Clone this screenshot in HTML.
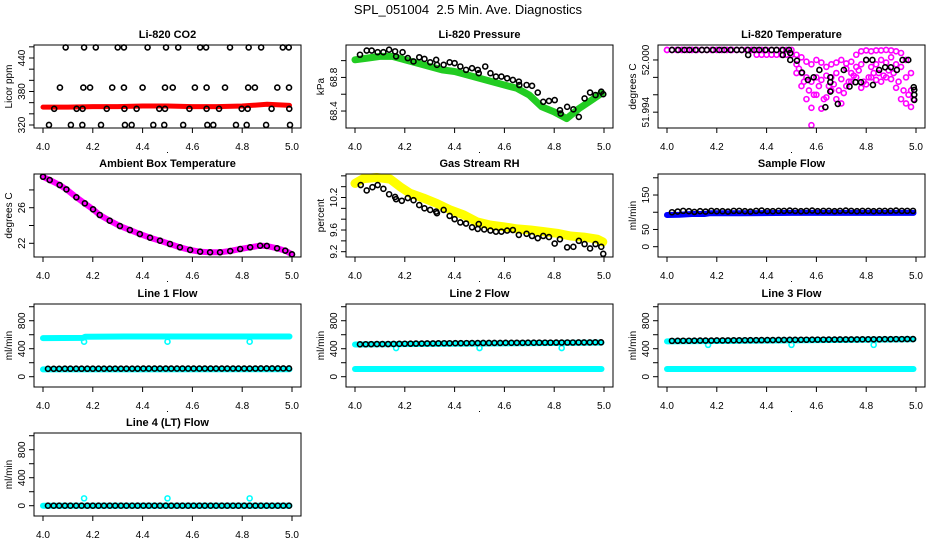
<!DOCTYPE html>
<html><head><meta charset="utf-8"><style>
html,body{margin:0;padding:0;background:#fff;}
svg{display:block;font-family:"Liberation Sans",Arial,sans-serif;}
</style></head><body>
<svg id="chart" width="936" height="540" viewBox="0 0 936 540" xmlns="http://www.w3.org/2000/svg">
<text x="468" y="14" font-size="13" text-anchor="middle" style="white-space:pre" xml:space="preserve">SPL_051004  2.5 Min. Ave. Diagnostics</text>
</svg>
<script>
// ---------- data ----------
const xTicks=[4.0,4.2,4.4,4.6,4.8,5.0];
const xTickLabels=["4.0","4.2","4.4","4.6","4.8","5.0"];

// CO2
const co2BlackX=[4.091,4.165,4.212,4.300,4.325,4.420,4.494,4.543,4.631,4.655,4.751,4.826,4.876,4.963,4.987,
4.068,4.162,4.189,4.278,4.325,4.400,4.490,4.521,4.610,4.657,4.731,4.824,4.851,4.941,4.988,
4.045,4.135,4.159,4.256,4.327,4.376,4.467,4.490,4.588,4.657,4.707,4.798,4.822,4.918,4.989,
4.024,4.112,4.158,4.233,4.329,4.356,4.443,4.487,4.563,4.660,4.684,4.775,4.818,4.896,4.992];
const co2BlackY=[459,459,459,459,459,459,459,459,459,459,459,459,459,459,459,
387,387,387,387,387,387,387,387,387,387,387,387,387,387,387,
349,349,349,349,349,349,349,349,349,349,349,349,349,349,349,
320,320,320,320,320,320,320,320,320,320,320,320,320,320,320];
const co2RedX=[4.0,4.1,4.2,4.3,4.4,4.5,4.6,4.7,4.8,4.9,4.99];
const co2Red=[352,352,353,353,354,354,353,353,354,357,355];

// Pressure
const presGreenX=[4.00,4.05,4.10,4.15,4.20,4.25,4.30,4.35,4.40,4.45,4.50,4.55,4.60,4.65,4.70,4.75,4.80,4.85,4.90,4.95,4.99];
const presGreen=[69.01,69.03,69.05,69.05,69.01,68.97,68.93,68.89,68.87,68.83,68.79,68.75,68.71,68.67,68.59,68.45,68.39,68.31,68.43,68.53,68.61];
const presBlackX=[4.020,4.047,4.067,4.091,4.114,4.137,4.161,4.165,4.191,4.212,4.235,4.258,4.279,4.302,4.326,4.329,4.356,4.380,4.400,4.423,4.446,4.470,4.493,4.497,4.523,4.544,4.566,4.588,4.611,4.634,4.658,4.660,4.689,4.711,4.734,4.756,4.779,4.802,4.823,4.826,4.852,4.877,4.899,4.922,4.944,4.966,4.989,4.997];
const presBlack=[69.07,69.12,69.12,69.10,69.10,69.13,69.11,69.05,69.10,69.03,68.99,69.04,69.02,68.98,69.01,68.95,68.95,68.98,68.97,68.93,68.89,68.91,68.89,68.85,68.93,68.85,68.81,68.81,68.79,68.77,68.75,68.71,68.71,68.70,68.62,68.51,68.52,68.53,68.41,68.37,68.45,68.42,68.33,68.55,68.62,68.59,68.63,68.60];

// Li-820 temperature
const tempX=[4.00,4.02,4.04,4.06,4.08,4.10,4.12,4.14,4.16,4.18,4.20,4.22,4.24,4.26,4.28,4.30,4.32,4.34,4.36,4.38,4.40,4.42,4.44,4.46,4.48,4.50,
4.52,4.54,4.56,4.58,4.60,4.62,4.64,4.66,4.68,4.70,4.72,4.74,4.76,4.78,4.80,4.82,4.84,4.86,4.88,4.90,4.92,4.94,4.96,4.98];
const tempHi=[52.00115,52.00115,52.00115,52.00115,52.00115,52.00115,52.00115,52.00115,52.00115,52.00115,52.00115,52.00115,52.00115,52.00115,52.00115,52.00115,52.00115,52.00115,52.00115,52.00115,52.00115,52.00115,52.00115,52.00115,52.00115,52.00115,
52.0006,52.0003,51.9998,51.9995,52.0000,51.9997,51.9992,51.9995,51.9997,52.0000,51.9996,51.9998,52.0006,52.0010,52.0011,52.0010,52.0011,52.0011,52.00115,52.0011,52.0010,52.0008,52.0000,51.9985];
const tempMid=[52.00115,52.00115,52.00115,52.00115,52.00115,52.00115,52.00115,52.00115,52.00115,52.00115,52.00115,52.00115,52.00115,52.00115,52.00115,52.00115,52.00115,52.00115,52.0006,52.0006,52.0006,52.0006,52.0006,52.0006,52.0006,52.0006,
51.9995,51.9985,51.9980,51.9975,51.9980,51.9977,51.9982,51.9980,51.9985,51.9978,51.9990,51.9985,51.9992,51.9995,52.0000,51.9992,51.9995,52.0000,51.9997,52.0003,51.9995,51.9992,51.9980,51.9965];
const tempLoX=[4.52,4.54,4.56,4.58,4.60,4.62,4.64,4.66,4.68,4.70,4.72,4.74,4.76,4.78,4.80,4.82,4.84,4.86,4.88,4.90,4.92,4.94,4.96,4.98,
4.53,4.55,4.57,4.59,4.61,4.63,4.65,4.67,4.69,4.71,4.73,4.75,4.77,4.79,4.81,4.83,4.85,4.87,4.89,4.91,4.93,4.95,4.97,4.99,4.58];
const tempLo=[51.9985,51.9970,51.9955,51.9945,51.9960,51.9944,51.9957,51.9965,51.9955,51.9950,51.9970,51.9975,51.9980,51.9968,51.9972,51.9980,51.9977,51.9975,51.9980,51.9978,51.9968,51.9955,51.9950,51.9946,
51.9990,51.9975,51.9965,51.9960,51.9970,51.9955,51.9970,51.9972,51.9965,51.9962,51.9975,51.9982,51.9988,51.9975,51.9980,51.9985,51.9985,51.9982,51.9988,51.9985,51.9975,51.9965,51.9960,51.9955,51.9925];
const tempBlackX=[4.02,4.045,4.07,4.09,4.115,4.14,4.16,4.185,4.21,4.23,4.255,4.28,4.30,4.325,4.35,4.37,4.395,4.42,4.44,4.465,4.49,
4.326,4.465,4.495,4.495,4.522,4.542,4.566,4.589,4.612,4.636,4.656,4.656,4.656,4.686,4.710,4.733,4.757,4.779,4.800,4.825,4.827,4.852,4.876,4.899,4.923,4.946,4.969,4.991,4.993,4.993,4.993];
const tempBlack=[52.00115,52.00115,52.00115,52.00115,52.00115,52.00115,52.00115,52.00115,52.00115,52.00115,52.00115,52.00115,52.00115,52.00115,52.00115,52.00115,52.00115,52.00115,52.00115,52.00115,52.00115,
52.00057,52.00057,52.0008,52.0000,51.99992,51.99855,51.99771,51.99801,51.99885,51.99457,51.99801,51.99744,51.99637,51.99495,51.99885,51.99694,51.99744,51.99744,52.0000,52.0000,51.99713,51.99885,51.99916,51.99916,51.99885,52.0000,52.0000,51.99687,51.99656,51.99600,51.99541];

// Ambient box temperature
const ambX=[4.000,4.027,4.067,4.094,4.134,4.168,4.201,4.228,4.268,4.309,4.349,4.389,4.430,4.470,4.510,4.550,4.591,4.631,4.671,4.711,4.752,4.792,4.832,4.872,4.899,4.940,4.973,5.000];
const amb=[29.48,29.11,28.55,28.06,27.17,26.49,25.82,25.18,24.54,23.94,23.49,23.04,22.63,22.29,21.92,21.55,21.25,21.06,20.99,20.99,21.13,21.36,21.55,21.73,21.70,21.44,21.17,20.76];

// Gas stream RH
const rhYellowX=[4.000,4.034,4.087,4.141,4.181,4.221,4.275,4.329,4.383,4.436,4.490,4.544,4.597,4.651,4.705,4.758,4.812,4.866,4.919,4.973,4.995];
const rhYellow=[10.46,10.55,10.57,10.54,10.40,10.28,10.19,10.09,9.97,9.88,9.75,9.69,9.66,9.62,9.60,9.57,9.54,9.49,9.47,9.43,9.38];
const rhBlackX=[4.023,4.047,4.070,4.091,4.114,4.137,4.161,4.165,4.188,4.212,4.235,4.258,4.279,4.302,4.326,4.329,4.356,4.380,4.400,4.423,4.446,4.470,4.493,4.497,4.519,4.544,4.566,4.588,4.611,4.634,4.658,4.689,4.711,4.734,4.756,4.779,4.802,4.823,4.852,4.877,4.899,4.922,4.944,4.966,4.989,4.997];
const rhBlack=[10.43,10.33,10.39,10.43,10.36,10.26,10.21,10.17,10.14,10.19,10.15,10.06,10.00,9.97,9.94,9.91,9.97,9.86,9.80,9.74,9.72,9.65,9.62,9.71,9.61,9.59,9.57,9.57,9.59,9.60,9.51,9.53,9.49,9.45,9.49,9.47,9.35,9.43,9.28,9.29,9.40,9.34,9.26,9.34,9.29,9.16];

// Flows
const flowBlackX=[4.020,4.043,4.065,4.088,4.110,4.133,4.155,4.178,4.200,4.223,4.245,4.268,4.290,4.313,4.335,4.358,4.380,4.403,4.425,4.448,4.470,4.493,4.515,4.538,4.560,4.583,4.605,4.628,4.650,4.673,4.695,4.718,4.740,4.763,4.785,4.808,4.830,4.853,4.875,4.898,4.920,4.943,4.965,4.988];
const sampleBlack=[100,102,104,103,101,103,102,104,103,103,102,104,104,103,102,104,105,103,103,104,104,105,104,103,104,105,103,104,104,103,104,105,104,103,104,104,103,104,104,104,105,104,104,104];
const sampleBlueX=[4.00,4.05,4.10,4.15,4.17,4.30,4.50,4.70,4.90,4.99];
const sampleBlue=[92,93,95,95,97,97,98,98,98,98];
const line1Black=[113,113,113,114,114,114,114,114,114,115,115,115,115,115,115,115,115,116,116,116,116,116,116,116,116,116,116,116,117,117,117,117,117,117,117,117,117,117,118,118,118,118,118,118];
const line2Black=[463,464,465,466,466,467,468,470,471,472,473,474,475,476,477,478,478,479,479,480,481,481,482,482,483,483,484,484,485,485,486,486,487,487,487,488,488,489,489,490,490,490,491,491];
const line3Black=[512,513,514,514,515,516,516,517,518,518,519,520,520,521,522,522,523,524,524,525,526,527,527,528,528,529,530,530,531,531,532,532,533,533,534,534,535,535,536,536,537,537,538,538];
const line4Black=[0,0,0,0,0,0,0,0,0,0,0,0,0,0,0,0,0,0,0,0,0,0,0,0,0,0,0,0,0,0,0,0,0,0,0,0,0,0,0,0,0,0,0,0];
const line1UpperX=[4.00,4.16,4.17,4.33,4.99];
const line1Upper=[552,555,572,575,575];
const line2UpperX=[4.00,4.99];
const line2Upper=[460,488];
const line3UpperX=[4.00,4.99];
const line3Upper=[505,535];
const lowerX=[4.00,4.99];
const line1Lower=[105,108];
const line2Lower=[110,110];
const line3Lower=[110,110];
const line4Lower=[0,0];
const dipX=[4.165,4.500,4.830];
const line1Dip=[500,500,500];
const line2Dip=[410,410,410];
const line3Dip=[455,455,455];
const line4Dip=[105,105,105];

// ---------- drawing ----------
const NS="http://www.w3.org/2000/svg";
const svg=document.getElementById('chart');
const cols=[34,346,658], rows=[45,174,304,433], PW=267, PH=83;
function mk(tag,attrs,parent){const e=document.createElementNS(NS,tag);for(const k in attrs)e.setAttribute(k,attrs[k]);(parent||svg).appendChild(e);return e;}

function makePanel(cfg){
  const L=cols[cfg.c], T=rows[cfg.r];
  const g=mk('g',{});
  
  
  const xs=v=>L+9+(v-4)*249;
  const ys=v=>T+PH-(v-cfg.ylim[0])/(cfg.ylim[1]-cfg.ylim[0])*PH;
  const title=mk('text',{x:L+PW/2,y:T-7,'font-size':11,'font-weight':'bold','text-anchor':'middle'},g);
  title.textContent=cfg.title;
  
  
  const plot=mk('g',{},g);
  
  
  const xa=mk('g',{},g);
  
  
  mk('line',{x1:xs(xTicks[0]),x2:xs(xTicks[xTicks.length-1]),y1:T+PH,y2:T+PH,stroke:'#000'},xa);
  xTicks.forEach((t,i)=>{
    mk('line',{x1:xs(t),x2:xs(t),y1:T+PH,y2:T+PH+5,stroke:'#000'},xa);
    const tl=mk('text',{x:xs(t),y:T+PH+22,'font-size':10,'text-anchor':'middle'},xa);
    tl.textContent=xTickLabels[i];
    
    
  });
  mk('rect',{x:L+PW/2-0.5,y:T+PH+24,width:1,height:1,fill:'#000'},xa);
  const ya=mk('g',{},g);
  
  
  mk('line',{x1:L,x2:L,y1:ys(cfg.yticks[0]),y2:ys(cfg.yticks[cfg.yticks.length-1]),stroke:'#000'},ya);
  cfg.yticks.forEach(t=>{
    mk('line',{x1:L-5,x2:L,y1:ys(t),y2:ys(t),stroke:'#000'},ya);
  });
  cfg.ylabels.forEach((t,i)=>{
    const yy=ys(t);
    const tl=mk('text',{x:L-9,y:yy,'font-size':10,'text-anchor':'middle',transform:`rotate(-90 ${L-9} ${yy})`},ya);
    tl.textContent=cfg.ylabelText[i];
    
    
  });
  const yt=mk('text',{x:L-22,y:T+PH/2,'font-size':10,'text-anchor':'middle',transform:`rotate(-90 ${L-22} ${T+PH/2})`},ya);
  yt.textContent=cfg.ylab;
  
  
  const box=mk('rect',{x:L,y:T,width:PW,height:PH,fill:'none',stroke:'#000'},g);
  
  
  return {plot,xs,ys};
}
function band(p,X,V,color,w,name){
  const pts=X.map((x,i)=>p.xs(x).toFixed(1)+','+p.ys(V[i]).toFixed(1)).join(' ');
  const pl=mk('polyline',{points:pts,fill:'none',stroke:color,'stroke-width':w,'stroke-linejoin':'round','stroke-linecap':'round'},p.plot);
  
  
}
function pts(p,X,V,color,name){
  const g=mk('g',{},p.plot);
  
  
  X.forEach((x,i)=>{
    const c=mk('circle',{cx:p.xs(x),cy:p.ys(V[i]),r:2.5,fill:'none',stroke:color,'stroke-width':1.6},g);
    
    
  });
}
const flowTicks=[0,200,400,600,800,1000], flowLab=[0,400,800], flowLabT=["0","400","800"];

let p;
p=makePanel({name:'panel-co2',c:0,r:0,title:'Li-820 CO2',ylab:'Licor ppm',ylim:[314.6,463.3],yticks:[320,340,360,380,400,420,440,460],ylabels:[320,380,440],ylabelText:["320","380","440"]});
band(p,co2RedX,co2Red,'#ff0000',5,'co2-red-series');
pts(p,co2BlackX,co2BlackY,'#000','co2-black-series');

p=makePanel({name:'panel-pressure',c:1,r:0,title:'Li-820 Pressure',ylab:'kPa',ylim:[68.198,69.186],yticks:[68.4,68.6,68.8,69.0],ylabels:[68.4,68.8],ylabelText:["68.4","68.8"]});
band(p,presGreenX,presGreen,'#22cc22',7,'pressure-green-series');
pts(p,presBlackX,presBlack,'#000','pressure-black-series');

p=makePanel({name:'panel-li820-temp',c:2,r:0,title:'Li-820 Temperature',ylab:'degrees C',ylim:[51.99218,52.00172],yticks:[51.994,51.996,51.998,52.000],ylabels:[51.994,52.000],ylabelText:["51.994","52.000"]});
pts(p,tempX,tempHi,'#ff00ff','temp-magenta-high');
pts(p,tempX,tempMid,'#ff00ff','temp-magenta-mid');
pts(p,tempLoX,tempLo,'#ff00ff','temp-magenta-low');
pts(p,tempBlackX,tempBlack,'#000','temp-black-series');

p=makePanel({name:'panel-ambient',c:0,r:1,title:'Ambient Box Temperature',ylab:'degrees C',ylim:[20.46,29.79],yticks:[22,24,26,28],ylabels:[22,26],ylabelText:["22","26"]});
band(p,ambX,amb,'#ff00ff',6,'ambient-magenta-series');
pts(p,ambX,amb,'#000','ambient-black-series');

p=makePanel({name:'panel-rh',c:1,r:1,title:'Gas Stream RH',ylab:'percent',ylim:[9.102,10.634],yticks:[9.2,9.4,9.6,9.8,10.0,10.2,10.4,10.6],ylabels:[9.2,9.6,10.2],ylabelText:["9.2","9.6","10.2"]});
band(p,rhYellowX,rhYellow,'#ffff00',9,'rh-yellow-series');
pts(p,rhBlackX,rhBlack,'#000','rh-black-series');

p=makePanel({name:'panel-sample-flow',c:2,r:1,title:'Sample Flow',ylab:'ml/min',ylim:[-29.9,211],yticks:[0,50,100,150,200],ylabels:[0,50,150],ylabelText:["0","50","150"]});
band(p,sampleBlueX,sampleBlue,'#0000ff',6,'sample-blue-series');
pts(p,flowBlackX,sampleBlack,'#000','sample-black-series');

p=makePanel({name:'panel-line1',c:0,r:2,title:'Line 1 Flow',ylab:'ml/min',ylim:[-147,1039],yticks:flowTicks,ylabels:flowLab,ylabelText:flowLabT});
band(p,line1UpperX,line1Upper,'#00ffff',6,'line1-cyan-upper');
band(p,lowerX,line1Lower,'#00ffff',6,'line1-cyan-lower');
pts(p,dipX,line1Dip,'#00ffff','line1-cyan-dips');
pts(p,flowBlackX,line1Black,'#000','line1-black-series');

p=makePanel({name:'panel-line2',c:1,r:2,title:'Line 2 Flow',ylab:'ml/min',ylim:[-147,1039],yticks:flowTicks,ylabels:flowLab,ylabelText:flowLabT});
band(p,line2UpperX,line2Upper,'#00ffff',6,'line2-cyan-upper');
band(p,lowerX,line2Lower,'#00ffff',6,'line2-cyan-lower');
pts(p,dipX,line2Dip,'#00ffff','line2-cyan-dips');
pts(p,flowBlackX,line2Black,'#000','line2-black-series');

p=makePanel({name:'panel-line3',c:2,r:2,title:'Line 3 Flow',ylab:'ml/min',ylim:[-147,1039],yticks:flowTicks,ylabels:flowLab,ylabelText:flowLabT});
band(p,line3UpperX,line3Upper,'#00ffff',6,'line3-cyan-upper');
band(p,lowerX,line3Lower,'#00ffff',6,'line3-cyan-lower');
pts(p,dipX,line3Dip,'#00ffff','line3-cyan-dips');
pts(p,flowBlackX,line3Black,'#000','line3-black-series');

p=makePanel({name:'panel-line4',c:0,r:3,title:'Line 4 (LT) Flow',ylab:'ml/min',ylim:[-147,1039],yticks:flowTicks,ylabels:flowLab,ylabelText:flowLabT});
band(p,lowerX,line4Lower,'#00ffff',6,'line4-cyan-lower');
pts(p,dipX,line4Dip,'#00ffff','line4-cyan-dips');
pts(p,flowBlackX,line4Black,'#000','line4-black-series');
</script>
</body></html>
